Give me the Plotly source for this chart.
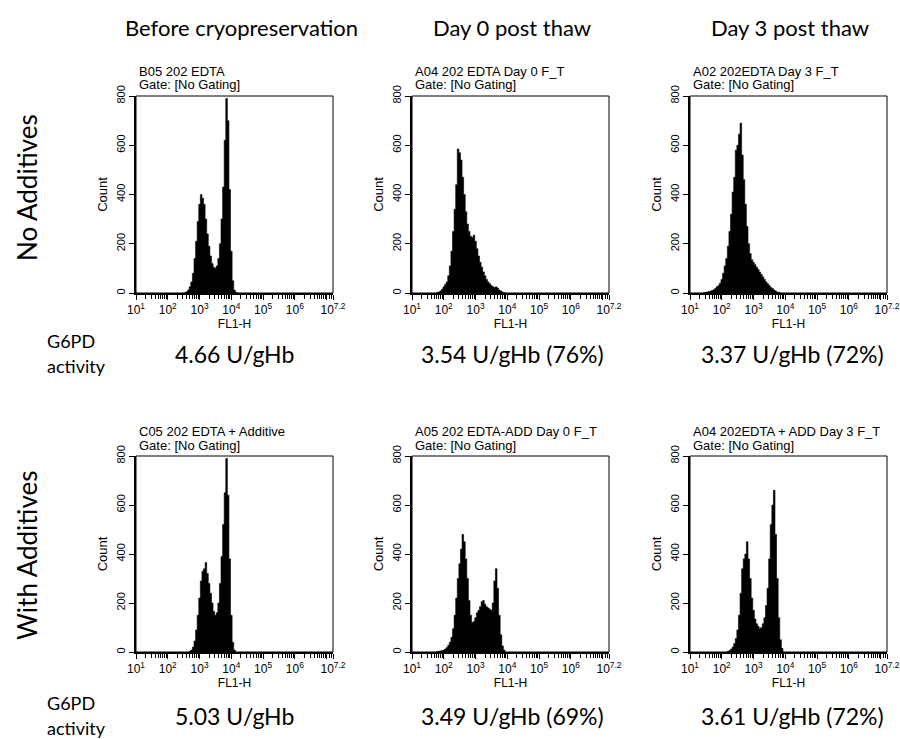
import numpy as np
import plotly.graph_objects as go

# ---------------- data ----------------
col_headers = ["Before cryopreservation", "Day 0 post thaw", "Day 3 post thaw"]
row_labels = ["No Additives", "With Additives"]
panel_titles = [
    "B05 202 EDTA", "A04 202 EDTA Day 0 F_T", "A02 202EDTA Day 3 F_T",
    "C05 202 EDTA + Additive", "A05 202 EDTA-ADD Day 0 F_T", "A04 202EDTA + ADD Day 3 F_T",
]
gate_text = "Gate: [No Gating]"
g6pd_values = [
    "4.66 U/gHb", "3.54 U/gHb (76%)", "3.37 U/gHb (72%)",
    "5.03 U/gHb", "3.49 U/gHb (69%)", "3.61 U/gHb (72%)",
]

bin_step = 0.05  # log10(FL1-H) channel width
# start exponent (log10 FL1-H) of each histogram
hist_start = [2.50, 1.75, 1.40, 2.65, 1.75, 2.15]
hist_b05 = [0, 2, 5, 12, 25, 45, 80, 140, 210, 290, 360, 400, 385, 360, 300, 240, 190, 150,
            120, 105, 100, 110, 140, 200, 300, 430, 620, 790, 700, 420, 170, 50, 12, 3, 0]
hist_a04_d0 = [0, 2, 4, 8, 15, 25, 35, 45, 70, 110, 170, 250, 340, 440, 585, 570, 540, 470,
               400, 330, 280, 250, 230, 225, 235, 210, 180, 150, 125, 105, 85, 70, 55, 45, 38,
               30, 25, 22, 25, 20, 12, 8, 4, 1, 0]
hist_a02_d3 = [0, 2, 3, 4, 6, 8, 10, 13, 18, 25, 30, 40, 55, 80, 110, 140, 190, 250, 320, 410,
               470, 580, 600, 645, 690, 560, 460, 360, 270, 200, 160, 135, 125, 115, 105, 95,
               85, 75, 65, 55, 45, 38, 30, 22, 18, 12, 8, 4, 2, 0]
hist_c05 = [0, 3, 8, 20, 45, 90, 150, 220, 290, 330, 340, 365, 320, 280, 240, 200, 165, 150,
            160, 200, 280, 390, 520, 650, 790, 640, 380, 150, 40, 8, 0]
hist_a05_d0 = [0, 2, 3, 4, 6, 8, 12, 18, 28, 40, 60, 95, 150, 220, 300, 360, 420, 480, 450,
               380, 300, 210, 150, 120, 125, 140, 160, 170, 185, 205, 210, 195, 185, 180, 175,
               170, 200, 290, 340, 260, 150, 70, 25, 8, 0]
hist_a04_d3 = [0, 3, 6, 12, 20, 35, 55, 90, 150, 240, 340, 380, 400, 450, 380, 300, 220, 170,
               135, 115, 105, 95, 100, 115, 140, 190, 260, 380, 520, 600, 660, 480, 300, 140,
               50, 15, 0]
hists = [hist_b05, hist_a04_d0, hist_a02_d3, hist_c05, hist_a05_d0, hist_a04_d3]

x_tick_vals = [1, 2, 3, 4, 5, 6, 7, 7.2]
x_tick_text = ["10<sup>1</sup>", "10<sup>2</sup>", "10<sup>3</sup>", "10<sup>4</sup>",
               "10<sup>5</sup>", "10<sup>6</sup>", "", "10<sup>7.2</sup>"]
y_tick_vals = [0, 200, 400, 600, 800]

# ---------------- layout geometry ----------------
W, H = 900, 739
col_px = [(136, 333), (412, 609), (690, 887)]
row_px = [(96, 293), (456, 652)]

def px_x(p):
    return p / W

def px_y(p):
    return 1 - p / H

minor_vals = [d + np.log10(k) for d in range(1, 7) for k in range(2, 10)]
minor_vals += [7 + np.log10(k) for k in (1.2, 1.4)]

fig = go.Figure()
AX_FONT = "Liberation Sans, Arial, sans-serif"
BIG_FONT = "Lato, Open Sans, sans-serif"

annotations = []
shapes = []
for i in range(6):
    r, c = divmod(i, 3)
    ax = "" if i == 0 else str(i + 1)
    xs = hist_start[i] + bin_step * np.arange(len(hists[i]))
    fig.add_trace(go.Scatter(
        x=xs, y=hists[i], mode="lines", line=dict(color="black", width=0.6, shape="hvh"),
        fill="tozeroy", fillcolor="black", xaxis="x" + ax, yaxis="y" + ax,
        showlegend=False, hoverinfo="skip"))
    x0, x1 = col_px[c]
    y0, y1 = row_px[r]
    fig.layout["xaxis" + ax] = dict(
        domain=[px_x(x0), px_x(x1)], range=[1, 7.2], anchor="y" + ax, automargin=False,
        showline=True, linecolor="black", linewidth=1.6, showgrid=False, zeroline=False,
        tickmode="array", tickvals=x_tick_vals, ticktext=x_tick_text,
        ticks="outside", ticklen=5, tickwidth=1.2, tickcolor="black",
        minor=dict(tickmode="array", tickvals=minor_vals, ticks="outside", ticklen=4,
                   tickwidth=1, tickcolor="black"),
        tickfont=dict(family=AX_FONT, size=12, color="black"),
        title=dict(text="FL1-H", font=dict(family=AX_FONT, size=12, color="black"), standoff=0),
    )
    fig.layout["yaxis" + ax] = dict(
        domain=[px_y(y1), px_y(y0)], range=[0, 800], anchor="x" + ax, automargin=False,
        showline=True, linecolor="black", linewidth=1.6, showgrid=False, zeroline=False,
        tickmode="array", tickvals=y_tick_vals, ticks="outside", ticklen=5, tickwidth=1.2,
        tickcolor="black", tickangle=-90,
        tickfont=dict(family=AX_FONT, size=11, color="black"),
        title=dict(text="Count", font=dict(family=AX_FONT, size=13, color="black"), standoff=4),
    )
    shapes.append(dict(type="rect", xref="x" + ax + " domain", yref="y" + ax + " domain",
                       x0=0, x1=1, y0=0, y1=1, line=dict(color="black", width=1)))
    annotations.append(dict(text=panel_titles[i], x=px_x(x0 + 1), y=px_y(y0 - 25),
                            xref="paper", yref="paper", xanchor="left", yanchor="middle",
                            showarrow=False, font=dict(family=AX_FONT, size=13, color="black")))
    annotations.append(dict(text=gate_text, x=px_x(x0 + 1), y=px_y(y0 - 11),
                            xref="paper", yref="paper", xanchor="left", yanchor="middle",
                            showarrow=False, font=dict(family=AX_FONT, size=13, color="black")))

for c, txt in enumerate(col_headers):
    cx = [241, 512, 790][c]
    annotations.append(dict(text=txt, x=px_x(cx), y=px_y(27), xref="paper", yref="paper",
                            xanchor="center", yanchor="middle", showarrow=False,
                            font=dict(family=BIG_FONT, size=22, color="black")))
for r, txt in enumerate(row_labels):
    cy = [188, 556][r]
    annotations.append(dict(text=txt, x=px_x(27), y=px_y(cy), xref="paper", yref="paper",
                            xanchor="center", yanchor="middle", textangle=-90, showarrow=False,
                            font=dict(family=BIG_FONT, size=26, color="black")))
for r in range(2):
    off = [0, 362][r]
    annotations.append(dict(text="G6PD", x=px_x(45), y=px_y(341 + off), xref="paper",
                            yref="paper", xanchor="left", yanchor="middle", showarrow=False,
                            font=dict(family=BIG_FONT, size=18, color="black")))
    annotations.append(dict(text="activity", x=px_x(45), y=px_y(366 + off), xref="paper",
                            yref="paper", xanchor="left", yanchor="middle", showarrow=False,
                            font=dict(family=BIG_FONT, size=18, color="black")))
    for c in range(3):
        cx = [234, 512, 792][c]
        annotations.append(dict(text=g6pd_values[3 * r + c], x=px_x(cx), y=px_y(354 + off),
                                xref="paper", yref="paper", xanchor="center", yanchor="middle",
                                showarrow=False,
                                font=dict(family=BIG_FONT, size=23, color="black")))

fig.update_layout(
    width=W, height=H, margin=dict(l=0, r=0, t=0, b=0),
    paper_bgcolor="white", plot_bgcolor="white",
    annotations=annotations, shapes=shapes, hovermode=False, showlegend=False,
)

fig.write_html("out.html", config={"displayModeBar": False},
               post_script="document.body.style.margin='0';document.body.style.overflow='hidden';")
